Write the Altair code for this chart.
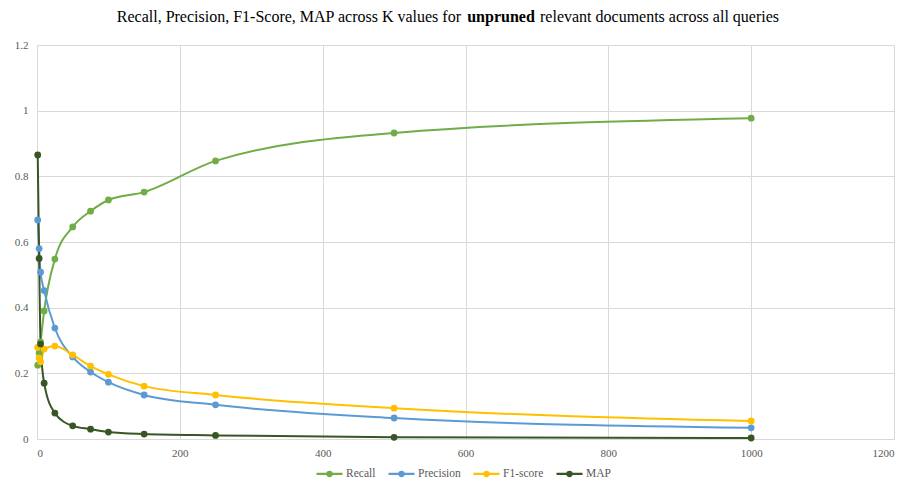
import altair as alt
import pandas as pd

# ---- data ----
k_values = [1, 3, 5, 10, 25, 50, 75, 100, 150, 250, 500, 1000]
recall = [0.225, 0.262, 0.296, 0.390, 0.548, 0.646, 0.694, 0.728, 0.752, 0.847, 0.932, 0.977]
precision = [0.667, 0.580, 0.508, 0.452, 0.338, 0.250, 0.204, 0.173, 0.134, 0.104, 0.064, 0.034]
f1_score = [0.279, 0.247, 0.235, 0.274, 0.283, 0.256, 0.222, 0.197, 0.161, 0.134, 0.094, 0.055]
map_vals = [0.865, 0.550, 0.289, 0.170, 0.079, 0.040, 0.030, 0.021, 0.015, 0.011, 0.005, 0.003]
series_names = ["Recall", "Precision", "F1-score", "MAP"]
series_colors = ["#70AD47", "#5B9BD5", "#FFC000", "#375623"]
x_ticks = [0, 200, 400, 600, 800, 1000, 1200]
y_ticks = [0, 0.2, 0.4, 0.6, 0.8, 1, 1.2]
title_parts = ["Recall, Precision, F1-Score, MAP across K values for", "unpruned",
               "relevant documents across all queries"]

rows = []
for name, vals in zip(series_names, [recall, precision, f1_score, map_vals]):
    for k, v in zip(k_values, vals):
        rows.append({"K": k, "value": v, "series": name})
df = pd.DataFrame(rows)

FONT = "Liberation Serif, DejaVu Serif, serif"
GRAY = "#595959"

color = alt.Color(
    "series:N",
    scale=alt.Scale(domain=series_names, range=series_colors),
    sort=series_names,
    legend=alt.Legend(
        title=None,
        orient="none",
        legendX=278,
        legendY=414,
        direction="horizontal",
        symbolType="M-1,0L1,0M-0.17,0A0.17,0.17,0,1,0,0.17,0A0.17,0.17,0,1,0,-0.17,0"
                   "M-0.06,0A0.06,0.06,0,1,0,0.06,0A0.06,0.06,0,1,0,-0.06,0",
        symbolSize=676,
        symbolStrokeWidth=2.2,
        labelFont=FONT,
        labelFontSize=11.5,
        labelColor=GRAY,
        labelOffset=2,
        columnPadding=8,
    ),
)

x = alt.X("K:Q", scale=alt.Scale(domain=[0, 1200], nice=False),
          axis=alt.Axis(values=x_ticks, title=None, format="d", grid=True,
                        gridColor="#D9D9D9", domain=True, domainColor="#D9D9D9",
                        ticks=False, labelFont=FONT, labelFontSize=11,
                        labelColor=GRAY, labelPadding=8))
y = alt.Y("value:Q", scale=alt.Scale(domain=[0, 1.2], nice=False),
          axis=alt.Axis(values=y_ticks, title=None, labelExpr="format(datum.value, '~g')",
                        grid=True, gridColor="#D9D9D9", domain=False, ticks=False,
                        labelFont=FONT, labelFontSize=11, labelColor=GRAY,
                        labelPadding=9))

base = alt.Chart(df)
lines = base.mark_line(strokeWidth=2, interpolate="monotone").encode(
    x=x, y=y, color=color, detail="series:N", order="K:Q"
)
points = base.mark_circle(size=46, opacity=1).encode(
    x="K:Q", y="value:Q",
    color=alt.Color("series:N", scale=alt.Scale(domain=series_names, range=series_colors), legend=None),
)

t_y = -28
TS = 16
t1 = alt.Chart(pd.DataFrame({"t": [title_parts[0]]})).mark_text(
    font=FONT, fontSize=TS, align="right", baseline="middle", color="#000000"
).encode(text="t:N", x=alt.value(424), y=alt.value(t_y))
t2 = alt.Chart(pd.DataFrame({"t": [title_parts[1]]})).mark_text(
    font=FONT, fontSize=TS, fontWeight="bold", align="center", baseline="middle", color="#000000"
).encode(text="t:N", x=alt.value(464), y=alt.value(t_y))
t3 = alt.Chart(pd.DataFrame({"t": [title_parts[2]]})).mark_text(
    font=FONT, fontSize=TS, align="left", baseline="middle", color="#000000"
).encode(text="t:N", x=alt.value(503), y=alt.value(t_y))

chart = alt.layer(lines, points, t1, t2, t3).properties(
    width=857, height=394,
    autosize=alt.AutoSizeParams(type="none"),
    padding={"left": 29, "top": 37, "right": 5, "bottom": 40},
).configure_view(stroke=None)

chart.save("out.html", embed_options={"renderer": "svg", "actions": False})
